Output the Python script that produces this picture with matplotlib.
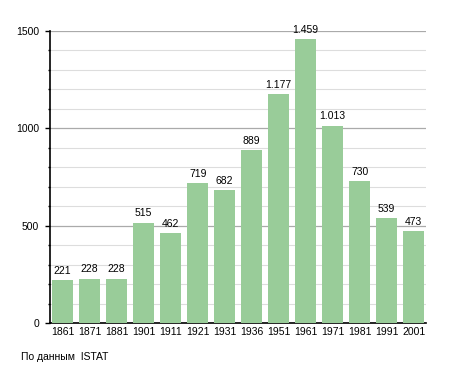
import matplotlib.pyplot as plt
from matplotlib.ticker import MultipleLocator

years = ['1861', '1871', '1881', '1901', '1911', '1921', '1931', '1936',
         '1951', '1961', '1971', '1981', '1991', '2001']
population = [221, 228, 228, 515, 462, 719, 682, 889, 1177, 1459, 1013, 730, 539, 473]

BAR_COLOR = '#99cc99'

plt.rcParams['font.family'] = ['Liberation Sans', 'DejaVu Sans']

fig = plt.figure(figsize=(4.55, 3.73), dpi=100)
ax = fig.add_axes([0.110, 0.134, 0.826, 0.783])

x = list(range(len(years)))
ax.bar(x, population, width=0.78, color=BAR_COLOR, zorder=3)

for xi, v in zip(x, population):
    label = f'{v:,}'.replace(',', '.')
    ax.text(xi, v + 22, label, ha='center', va='bottom', fontsize=7.5, zorder=4)

ax.set_xlim(-0.47, 13.45)
ax.set_ylim(0, 1500)
ax.yaxis.set_major_locator(MultipleLocator(500))
ax.yaxis.set_minor_locator(MultipleLocator(100))
ax.grid(axis='y', which='major', color='#aaaaaa', linewidth=0.9, zorder=1)
ax.grid(axis='y', which='minor', color='#dddddd', linewidth=0.8, zorder=1)

ax.set_xticks(x)
ax.set_xticklabels(years, fontsize=7.5)
ax.tick_params(axis='x', length=0, pad=3)
ax.tick_params(axis='y', which='major', length=3.6, width=1, labelsize=7.5, pad=4.3)
ax.tick_params(axis='y', which='minor', length=1.6, width=1)

for s in ['top', 'right']:
    ax.spines[s].set_visible(False)
ax.spines['left'].set_linewidth(1.2)
ax.spines['bottom'].set_linewidth(1.2)

fig.text(0.046, 0.030, 'По данным  ISTAT', fontsize=7.5, ha='left', va='bottom')

fig.savefig('out.png', dpi=100)
